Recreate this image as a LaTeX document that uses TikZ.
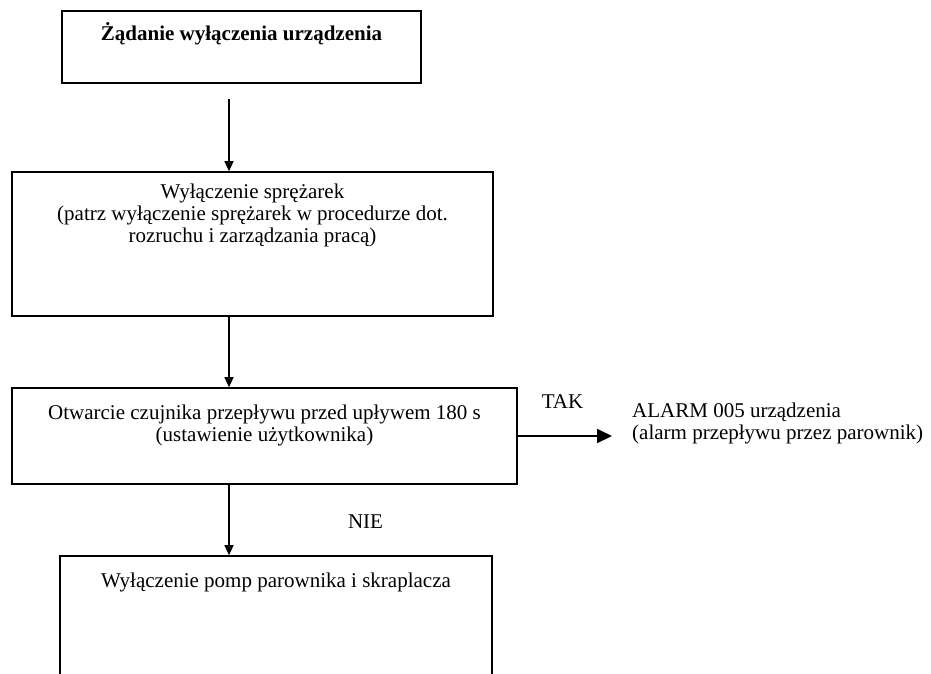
\documentclass[tikz,border=0pt]{standalone}
\usepackage{fontspec}
\setmainfont{Liberation Serif}
\usetikzlibrary{arrows.meta}
\begin{document}
\begin{tikzpicture}[x=1pt,y=-1pt,
  box/.style={draw, line width=1.6pt, rectangle, inner sep=0pt},
  txt/.style={inner sep=0pt, align=center, font=\fontsize{21}{22}\selectfont},
  arr/.style={line width=1.3pt, -{Triangle[length=10pt,width=9pt]}},
  bigarr/.style={line width=2pt, -{Triangle[length=15pt,width=14pt]}}]
\useasboundingbox (0,0) rectangle (931,673);
\fill[white] (0,0) rectangle (931,673);
\clip (0,0) rectangle (931,673);
% boxes
\node[box, minimum width=359pt, minimum height=72pt] (b1) at (241.5,47) {};
\node[box, minimum width=481pt, minimum height=144pt] (b2) at (252.5,244) {};
\node[box, minimum width=505pt, minimum height=96pt] (b3) at (264.5,436) {};
\node[box, minimum width=432pt, minimum height=168pt] (b4) at (276,640) {};
% texts
\node[txt, anchor=base] (t1) at (241.5,40) {\textbf{Żądanie wyłączenia urządzenia}};
\node[txt, anchor=north] (t2) at (252.5,180) {\rule{0pt}{18pt}Wyłączenie sprężarek\\(patrz wyłączenie sprężarek w procedurze dot.\\rozruchu i zarządzania pracą)};
\node[txt, anchor=north] (t3) at (264.5,401) {\rule{0pt}{18pt}Otwarcie czujnika przepływu przed upływem 180 s\\(ustawienie użytkownika)};
\node[txt, anchor=base] (t4) at (276,587) {Wyłączenie pomp parownika i skraplacza};
\node[txt, anchor=base] (nie) at (365.5,528) {NIE};
\node[txt, anchor=base] (tak) at (562.5,408) {TAK};
\node[txt, anchor=north west, align=left] (alarm) at (632,399) {\rule{0pt}{18pt}ALARM 005 urządzenia\\(alarm przepływu przez parownik)};
% connectors
\coordinate (ax) at (229,0);
\coordinate (tip) at (612,436);
\draw[arr, shorten <=15pt] (b1.south -| ax) -- (b2.north -| ax);
\draw[arr] (b2.south -| ax) -- (b3.north -| ax);
\draw[arr] (b3.south -| ax) -- (b4.north -| ax);
\draw[bigarr] (b3.east) -- (tip);
\end{tikzpicture}
\end{document}
